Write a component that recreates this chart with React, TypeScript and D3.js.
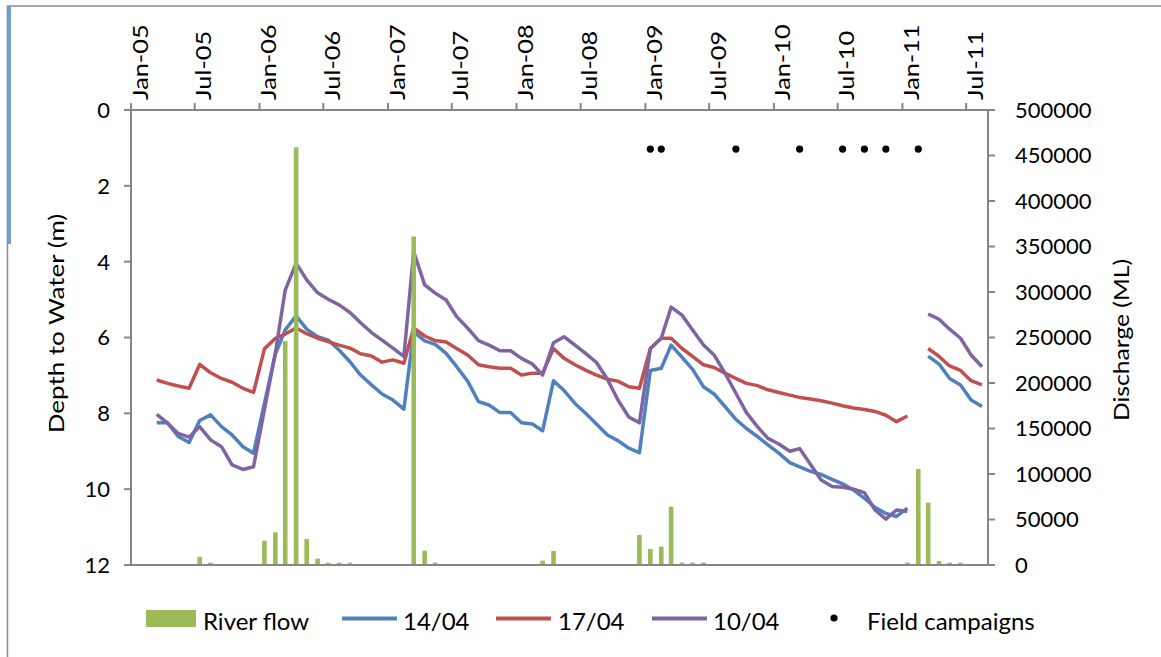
import React from "react";
import * as d3 from "d3";

// ---- data ----
const lineStart = "2005-03"; // first monthly reading (mid-month)
const series1404: (number | null)[] = [
  8.25, 8.25, 8.61, 8.77, 8.19, 8.04, 8.35, 8.57, 8.88, 9.05,
  7.73, 6.44, 5.80, 5.43, 5.78, 5.98, 6.07, 6.33, 6.64, 6.99,
  7.25, 7.49, 7.65, 7.89, 5.85, 6.09, 6.18, 6.42, 6.77, 7.15,
  7.69, 7.78, 7.98, 7.98, 8.25, 8.28, 8.46, 7.14, 7.40, 7.74,
  8.00, 8.28, 8.57, 8.72, 8.92, 9.04, 6.87, 6.81, 6.20, 6.52,
  6.84, 7.30, 7.49, 7.82, 8.16, 8.40, 8.61, 8.83, 9.05, 9.30,
  9.41, 9.53, 9.61, 9.74, 9.86, 10.02, 10.24, 10.48, 10.64, 10.72,
  10.50, null,
  6.49, 6.70, 7.08, 7.25, 7.65, 7.82,
];
const series1704: (number | null)[] = [
  7.12, 7.21, 7.28, 7.34, 6.71, 6.93, 7.08, 7.18, 7.34, 7.45,
  6.30, 6.02, 5.91, 5.75, 5.90, 6.02, 6.11, 6.20, 6.28, 6.43,
  6.49, 6.65, 6.59, 6.68, 5.75, 5.96, 6.08, 6.12, 6.29, 6.46,
  6.72, 6.77, 6.81, 6.81, 6.99, 6.94, 6.94, 6.29, 6.55, 6.72,
  6.86, 6.99, 7.10, 7.15, 7.30, 7.34, 6.29, 6.02, 6.02, 6.29,
  6.50, 6.72, 6.79, 6.94, 7.08, 7.21, 7.27, 7.38, 7.45, 7.52,
  7.58, 7.62, 7.67, 7.73, 7.80, 7.86, 7.90, 7.95, 8.05, 8.22,
  8.07, null,
  6.29, 6.50, 6.75, 6.87, 7.14, 7.25,
];
const series1004: (number | null)[] = [
  8.03, 8.26, 8.53, 8.63, 8.35, 8.70, 8.88, 9.36, 9.48, 9.41,
  7.90, 6.40, 4.75, 4.04, 4.48, 4.82, 4.99, 5.14, 5.34, 5.61,
  5.87, 6.07, 6.28, 6.50, 3.74, 4.61, 4.83, 5.01, 5.45, 5.75,
  6.08, 6.20, 6.35, 6.35, 6.55, 6.70, 6.99, 6.14, 5.98, 6.20,
  6.42, 6.66, 7.10, 7.65, 8.10, 8.25, 6.29, 6.02, 5.20, 5.41,
  5.80, 6.20, 6.46, 6.94, 7.47, 7.98, 8.35, 8.66, 8.81, 9.00,
  8.93, 9.35, 9.76, 9.93, 9.95, 10.00, 10.09, 10.55, 10.79, 10.55,
  10.59, null,
  5.38, 5.52, 5.78, 6.02, 6.46, 6.77,
];

const flowMonths = [
  "2005-07", "2005-08", "2006-01", "2006-02", "2006-03", "2006-04", "2006-05",
  "2006-06", "2006-07", "2006-08", "2006-09", "2007-03", "2007-04", "2007-05",
  "2008-03", "2008-04", "2008-12", "2009-01", "2009-02", "2009-03", "2009-04",
  "2009-05", "2009-06", "2011-01", "2011-02", "2011-03", "2011-04", "2011-05",
  "2011-06",
];
const flowValues = [
  9000, 2500, 26700, 35900, 246000, 459000, 28600,
  7000, 2500, 2500, 2500, 361000, 15700, 2500,
  4800, 15400, 33000, 17600, 20100, 64100, 2600,
  2600, 2600, 2500, 105500, 68500, 4400, 2500,
  2500,
];

const campaignMonths = [
  "2009-01", "2009-02", "2009-09", "2010-03", "2010-07", "2010-09", "2010-11", "2011-02",
];
const campaignDepth = 1.03;

const depthTicks = [0, 2, 4, 6, 8, 10, 12];
const flowTicks = [0, 50000, 100000, 150000, 200000, 250000, 300000, 350000, 400000, 450000, 500000];

// ---- layout ----
const W = 1161;
const H = 657;
const L = 131, R = 988, T = 110, B = 565;
const FONT = "Lato, 'Open Sans', sans-serif";
const AX = "#868686";
const C_FLOW = "#9BBB59";
const C_BLUE = "#4F81BD";
const C_RED = "#C0504D";
const C_PURPLE = "#8064A2";

const parseMonth = (s: string) => {
  const [y, m] = s.split("-").map(Number);
  return new Date(y, m - 1, 15);
};

export default function App() {
  const x = d3.scaleTime().domain([new Date(2005, 0, 1), new Date(2011, 8, 1)]).range([L, R]);
  const yL = d3.scaleLinear().domain([0, 12]).range([T, B]);
  const yR = d3.scaleLinear().domain([0, 500000]).range([B, T]);

  const start = parseMonth(lineStart);
  const dateAt = (i: number) => d3.timeMonth.offset(start, i);

  const mkLine = (vals: (number | null)[]) =>
    d3
      .line<number | null>()
      .defined((d) => d != null)
      .x((_, i) => x(dateAt(i)))
      .y((d) => yL(d as number))(vals) || "";

  const xTicks = d3.timeMonth.every(6)!.range(new Date(2005, 0, 1), new Date(2011, 8, 1));
  const fmt = d3.timeFormat("%b-%y");
  const barW = 4.6;

  return (
    <div style={{ position: "absolute", left: 0, top: 0 }}>
      <svg width={W} height={H} style={{ display: "block", background: "#fff" }} fontFamily={FONT}>
        {/* frame */}
        <line x1={7} y1={6} x2={W} y2={6} stroke="#8a8a8a" strokeWidth={1.5} />
        <line x1={7.5} y1={6} x2={7.5} y2={H} stroke="#8a8a8a" strokeWidth={1.5} />
        <line x1={9.5} y1={6} x2={9.5} y2={244} stroke="#6f9fd8" strokeWidth={3} />

        {/* lines */}
        <path d={mkLine(series1404)} fill="none" stroke={C_BLUE} strokeWidth={3.5} strokeLinejoin="round" />
        <path d={mkLine(series1704)} fill="none" stroke={C_RED} strokeWidth={3.5} strokeLinejoin="round" />
        <path d={mkLine(series1004)} fill="none" stroke={C_PURPLE} strokeWidth={3.5} strokeLinejoin="round" />

        {/* bars */}
        {flowMonths.map((m, i) => (
          <rect
            key={m}
            x={x(parseMonth(m)) - barW / 2}
            y={yR(flowValues[i])}
            width={barW}
            height={B - yR(flowValues[i])}
            fill={C_FLOW}
          />
        ))}

        {/* campaigns */}
        {campaignMonths.map((m) => (
          <circle key={m} cx={x(parseMonth(m))} cy={yL(campaignDepth)} r={3.6} fill="#000" />
        ))}

        {/* axes */}
        <line x1={L} y1={T} x2={R} y2={T} stroke={AX} strokeWidth={2} />
        <line x1={L} y1={B} x2={R} y2={B} stroke={AX} strokeWidth={2} />
        <line x1={L} y1={T} x2={L} y2={B} stroke={AX} strokeWidth={2} />
        <line x1={R} y1={T} x2={R} y2={B} stroke={AX} strokeWidth={2} />

        {xTicks.map((d) => (
          <g key={+d}>
            <line x1={x(d)} y1={T} x2={x(d)} y2={T - 7} stroke={AX} strokeWidth={2} />
            <text
              transform={`translate(${x(d) + 16.5},${T - 10}) rotate(-90) scale(1.15,1)`}
              textAnchor="start"
              fontSize={22}
              fill="#000"
            >
              {fmt(d)}
            </text>
          </g>
        ))}

        {depthTicks.map((t) => (
          <g key={t}>
            <line x1={L - 7} y1={yL(t)} x2={L} y2={yL(t)} stroke={AX} strokeWidth={2} />
            <text x={110} y={yL(t)} dy="0.36em" textAnchor="end" fontSize={22} fill="#000">
              {t}
            </text>
          </g>
        ))}

        {flowTicks.map((t) => (
          <g key={t}>
            <line x1={R} y1={yR(t)} x2={R + 7} y2={yR(t)} stroke={AX} strokeWidth={2} />
            <text x={1015} y={yR(t)} dy="0.36em" textAnchor="start" fontSize={22} fill="#000">
              {t}
            </text>
          </g>
        ))}

        <text
          transform={`translate(64,${(T + B) / 2 - 14}) rotate(-90) scale(1.18,1)`}
          textAnchor="middle"
          fontSize={22}
          fill="#000"
        >
          Depth to Water (m)
        </text>
        <text
          transform={`translate(1129,340) rotate(-90) scale(1.12,1)`}
          textAnchor="middle"
          fontSize={22}
          fill="#000"
        >
          Discharge (ML)
        </text>

        {/* legend */}
        <g fontSize={24} fill="#000">
          <rect x={146} y={610} width={50} height={17} fill={C_FLOW} />
          <text x={203} y={630}>River flow</text>
          <line x1={342} x2={397} y1={618.5} y2={618.5} stroke={C_BLUE} strokeWidth={4} />
          <text x={403} y={630}>14/04</text>
          <line x1={496} x2={551} y1={618.5} y2={618.5} stroke={C_RED} strokeWidth={4} />
          <text x={558} y={630}>17/04</text>
          <line x1={652} x2={707} y1={618.5} y2={618.5} stroke={C_PURPLE} strokeWidth={4} />
          <text x={713} y={630}>10/04</text>
          <circle cx={834} cy={618} r={3.6} fill="#000" />
          <text x={867} y={630}>Field campaigns</text>
        </g>
      </svg>
    </div>
  );
}
